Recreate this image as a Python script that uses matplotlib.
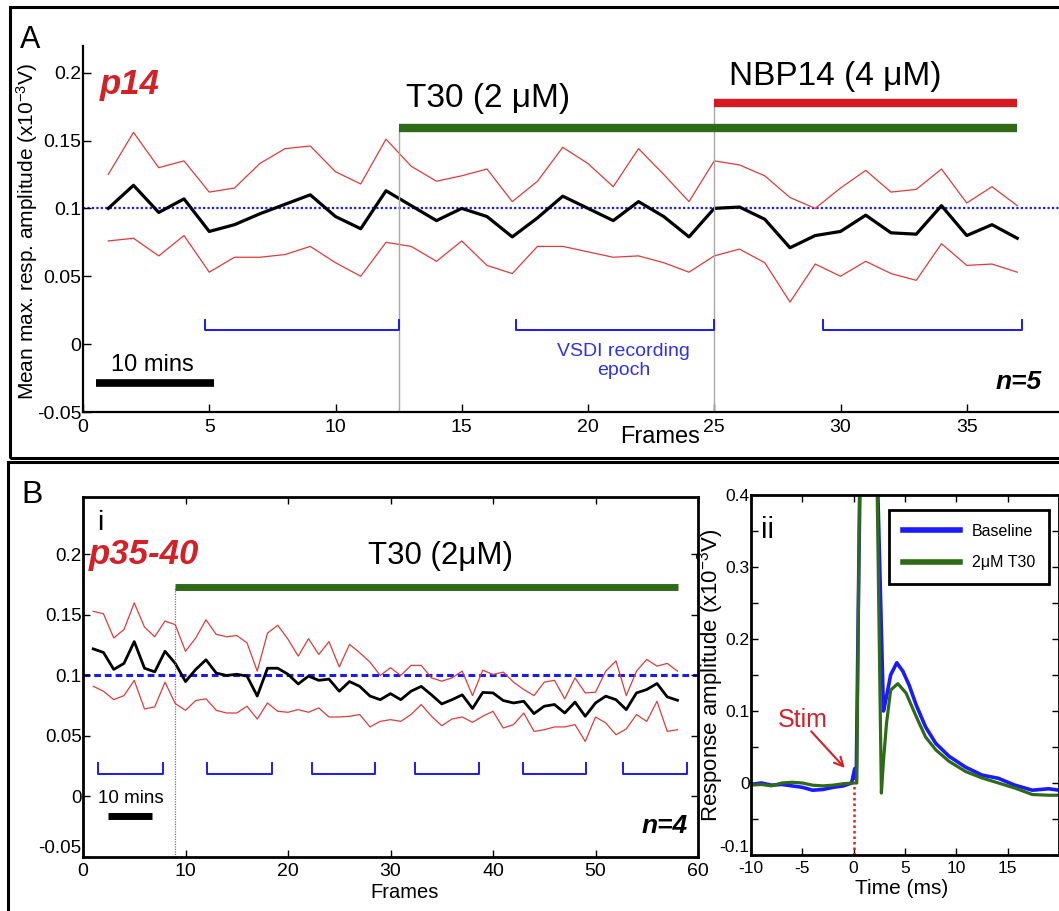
import matplotlib
matplotlib.use('Agg')
import matplotlib.pyplot as plt
from matplotlib.patches import Rectangle

plt.rcParams['font.family'] = ['Liberation Sans', 'DejaVu Sans']
plt.rcParams['mathtext.fontset'] = 'custom'
plt.rcParams['mathtext.rm'] = 'Liberation Sans'
plt.rcParams['mathtext.it'] = 'Liberation Sans:italic'
plt.rcParams['mathtext.default'] = 'rm'
plt.rcParams['axes.unicode_minus'] = False

NARROW = ['Liberation Sans Narrow', 'Liberation Sans', 'DejaVu Sans']

# ---------------- data: panel A (p14) ----------------
a_frames = list(range(1, 38))
a_mean = [0.100, 0.117, 0.097, 0.107, 0.083, 0.088, 0.096, 0.103, 0.110, 0.094,
          0.085, 0.113, 0.102, 0.091, 0.100, 0.094, 0.079, 0.093, 0.109, 0.100,
          0.091, 0.105, 0.094, 0.079, 0.100, 0.101, 0.092, 0.071, 0.080, 0.083,
          0.095, 0.082, 0.081, 0.102, 0.080, 0.088, 0.078]
a_upper = [0.125, 0.156, 0.130, 0.135, 0.112, 0.115, 0.133, 0.144, 0.146, 0.127,
           0.118, 0.151, 0.131, 0.120, 0.124, 0.129, 0.105, 0.120, 0.145, 0.133,
           0.116, 0.144, 0.125, 0.105, 0.135, 0.132, 0.124, 0.108, 0.100, 0.115,
           0.128, 0.112, 0.114, 0.129, 0.104, 0.116, 0.102]
a_lower = [0.076, 0.078, 0.065, 0.080, 0.053, 0.064, 0.064, 0.066, 0.072, 0.060,
           0.050, 0.075, 0.072, 0.061, 0.076, 0.058, 0.052, 0.072, 0.072, 0.068,
           0.064, 0.065, 0.060, 0.053, 0.065, 0.070, 0.060, 0.031, 0.059, 0.050,
           0.061, 0.052, 0.047, 0.074, 0.058, 0.059, 0.053]
a_t30_start, a_nbp_start, a_drug_end = 12.5, 25.0, 37.0
a_epoch_start = [4.85, 17.15, 29.3]
a_epoch_end = [12.5, 25.0, 37.2]

# ---------------- data: panel B(i) (p35-40) ----------------
b_frames = list(range(1, 59))
b_mean = [0.122, 0.119, 0.105, 0.110, 0.128, 0.106, 0.103, 0.120, 0.110, 0.095,
          0.105, 0.113, 0.102, 0.100, 0.101, 0.0995, 0.083, 0.106, 0.106, 0.101,
          0.093, 0.0995, 0.096, 0.097, 0.087, 0.095, 0.091, 0.083, 0.080, 0.085,
          0.080, 0.087, 0.091, 0.084, 0.0765, 0.080, 0.084, 0.0727, 0.086, 0.0856,
          0.0793, 0.0773, 0.0787, 0.0685, 0.0746, 0.076, 0.069, 0.078, 0.0663, 0.0773,
          0.0829, 0.080, 0.0718, 0.0856, 0.0884, 0.0934, 0.0823, 0.0795]
b_upper = [0.153, 0.151, 0.131, 0.138, 0.160, 0.140, 0.132, 0.145, 0.142, 0.120,
           0.131, 0.146, 0.134, 0.132, 0.133, 0.127, 0.1036, 0.135, 0.1415, 0.130,
           0.116, 0.1304, 0.1174, 0.128, 0.107, 0.1257, 0.1188, 0.111, 0.100, 0.1064,
           0.100, 0.1083, 0.1083, 0.098, 0.0953, 0.098, 0.1036, 0.0834, 0.1044, 0.1008,
           0.1028, 0.0945, 0.0884, 0.0834, 0.0945, 0.096, 0.0807, 0.098, 0.0856, 0.0862,
           0.1036, 0.112, 0.0834, 0.1036, 0.1133, 0.1077, 0.110, 0.1036]
b_lower = [0.0911, 0.087, 0.080, 0.0834, 0.096, 0.0724, 0.074, 0.0945, 0.0768, 0.0712,
           0.0793, 0.0807, 0.0712, 0.069, 0.069, 0.0746, 0.064, 0.0773, 0.0704, 0.0696,
           0.0718, 0.0696, 0.0732, 0.0657, 0.0657, 0.0663, 0.0677, 0.0575, 0.0621, 0.0635,
           0.0621, 0.0677, 0.076, 0.0663, 0.0585, 0.064, 0.0657, 0.0613, 0.0663, 0.0704,
           0.0566, 0.0594, 0.069, 0.0538, 0.0552, 0.0575, 0.0575, 0.0594, 0.0455, 0.0657,
           0.0608, 0.051, 0.0558, 0.0677, 0.0621, 0.0787, 0.0538, 0.0552]
b_t30_start, b_drug_end = 9.0, 58.0
b_epoch_start = [1.5, 12.1, 22.3, 32.4, 42.9, 52.7]
b_epoch_end = [7.8, 18.4, 28.5, 38.6, 49.1, 58.9]

# ---------------- data: panel B(ii) traces ----------------
base_t = [-10, -9, -8, -7, -6, -5, -4, -3, -2, -1, -0.2, 0.1, 0.25, 0.5, 0.8,
          2.0, 2.9, 3.2, 3.6, 4.2, 4.8, 5.4, 6.1, 7.0, 8.0, 9.3, 10.9, 12.5, 14.1,
          15.7, 17.4, 19.0, 20.0]
base_v = [-0.002, 0.000, -0.003, -0.002, -0.004, -0.006, -0.010, -0.009, -0.006, -0.004,
          0.000, 0.020, 0.005, 0.300, 0.600, 0.600, 0.100, 0.120, 0.150, 0.167, 0.155,
          0.136, 0.108, 0.078, 0.055, 0.037, 0.022, 0.011, 0.0065, -0.003, -0.010,
          -0.008, -0.010]
t30_t = [-10, -9, -8, -7, -6, -5, -4, -3, -2, -1, 0, 0.3, 0.7, 2.1, 2.7, 2.9, 3.2,
         3.6, 4.3, 5.1, 6.1, 7.0, 8.0, 9.3, 10.9, 12.5, 14.1, 15.7, 17.4, 19.0, 20.0]
t30_v = [-0.003, -0.002, -0.004, 0.000, 0.001, 0.000, -0.003, -0.004, -0.003, -0.001,
         0.000, 0.000, 0.600, 0.600, -0.014, 0.030, 0.083, 0.129, 0.138, 0.125, 0.092,
         0.064, 0.046, 0.030, 0.016, 0.007, 0.000, -0.007, -0.016, -0.017, -0.017]

RED = '#e23a3a'
BARRED = '#d8191f'
GREEN = '#2f6b16'
BLUE = '#1a1aff'
TXTRED = '#d42027'

W, H = 1059, 911
fig = plt.figure(figsize=(W / 100, H / 100), dpi=100)


def fx(px):
    return px / W


def fy(py):
    return 1 - py / H


# ================= Panel A =================
axA = fig.add_axes([fx(83), fy(412), fx(1059 - 83), (412 - 45.5) / H])
axA.set_xlim(0, 976 / 25.25)
axA.set_ylim(-0.05, 0.22)
axA.spines['top'].set_visible(False)
axA.spines['right'].set_visible(False)
for s in ('left', 'bottom'):
    axA.spines[s].set_linewidth(1.6)
axA.set_xticks(range(0, 40, 5))
axA.set_yticks([-0.05, 0, 0.05, 0.1, 0.15, 0.2])
axA.set_yticklabels(['-0.05', '0', '0.05', '0.1', '0.15', '0.2'])
axA.tick_params(direction='in', length=6, width=1, labelsize=14)
axA.tick_params(axis='y', pad=1)
axA.tick_params(axis='x', pad=5)

axA.axhline(0.1, color=BLUE, lw=1.6, ls=(0, (1, 1)), zorder=1)
axA.plot(a_frames, a_upper, color=RED, lw=0.9)
axA.plot(a_frames, a_lower, color=RED, lw=0.9)
axA.plot(a_frames, a_mean, color='black', lw=2.3)

axA.plot([a_t30_start] * 2, [-0.05, 0.159], color='#a8a8a8', lw=1)
axA.plot([a_nbp_start] * 2, [-0.05, 0.178], color='#a8a8a8', lw=1)
axA.plot([a_t30_start, a_drug_end], [0.159, 0.159], color=GREEN, lw=6, solid_capstyle='butt')
axA.plot([a_nbp_start, a_drug_end], [0.178, 0.178], color=BARRED, lw=6, solid_capstyle='butt')

for s0, s1 in zip(a_epoch_start, a_epoch_end):
    axA.plot([s0, s0, s1, s1], [0.0175, 0.0105, 0.0105, 0.0175], color=BLUE, lw=1.4)

axA.text(0.67, 0.191, 'p14', color=TXTRED, fontsize=25, fontweight='bold',
         fontstyle='italic', va='center', ha='left')
axA.text(12.8, 0.181, 'T30 (2 μM)', fontsize=24, va='center', ha='left')
axA.text(25.6, 0.197, 'NBP14 (4 μM)', fontsize=24, va='center', ha='left')
axA.text(21.4, -0.0125, 'VSDI recording\nepoch', color='#3030ee', fontsize=14,
         ha='center', va='center', linespacing=1.15)
axA.text(2.75, -0.0155, '10 mins', fontsize=17, ha='center', va='center')
axA.plot([0.5, 5.2], [-0.0284, -0.0284], color='black', lw=5.5, solid_capstyle='butt')
axA.text(37.98, -0.0276, 'n=5', fontsize=19, fontweight='bold', fontstyle='italic',
         ha='right', va='center')

fig.text(fx(20), fy(25), 'A', fontsize=22, ha='left', va='top')
fig.text(fx(660), fy(437), 'Frames', fontsize=17, ha='center', va='center')
fig.text(fx(27), fy(231), r'Mean max. resp. amplitude (x10$^{-3}$V)', fontsize=15,
         rotation=90, ha='center', va='center')

# ================= Panel B(i) =================
axB = fig.add_axes([fx(83), fy(857), fx(615), 360 / H])
axB.set_xlim(0, 60)
axB.set_ylim(-0.05, 0.2475)
for s in axB.spines.values():
    s.set_linewidth(2)
axB.set_xticks(range(0, 70, 10))
axB.set_yticks([-0.05, 0, 0.05, 0.1, 0.15, 0.2])
axB.set_yticklabels(['-0.05', '0', '0.05', '0.1', '0.15', '0.2'])
axB.tick_params(direction='in', length=5, width=1, top=True, right=True, labelsize=14)
axB.tick_params(axis='y', labelsize=13.5, pad=1)
axB.tick_params(axis='x', pad=4)
for lab in axB.get_xticklabels() + axB.get_yticklabels():
    lab.set_family(NARROW)
axB.get_yticklabels()[0].set_verticalalignment('bottom')

axB.axhline(0.1, color=BLUE, lw=2.2, ls=(0, (2.2, 1.3)), zorder=1)
axB.plot(b_frames, b_upper, color=RED, lw=0.9)
axB.plot(b_frames, b_lower, color=RED, lw=0.9)
axB.plot(b_frames, b_mean, color='black', lw=2)
axB.plot([b_t30_start] * 2, [-0.05, 0.173], color='#777777', lw=0.9, ls=(0, (1, 1)))
axB.plot([b_t30_start, b_drug_end], [0.173, 0.173], color=GREEN, lw=5, solid_capstyle='butt')
for s0, s1 in zip(b_epoch_start, b_epoch_end):
    axB.plot([s0, s0, s1, s1], [0.028, 0.019, 0.019, 0.028], color=BLUE, lw=1.4)

axB.text(1.66, 0.226, 'i', fontsize=20, family=NARROW, ha='center', va='center')
axB.text(0.6, 0.2, 'p35-40', color=TXTRED, fontsize=25, fontweight='bold',
         fontstyle='italic', ha='left', va='center')
axB.text(27.8, 0.1986, 'T30 (2μM)', fontsize=22.5, family=NARROW, ha='left', va='center')
axB.text(4.7, -0.002, '10 mins', fontsize=13.5, family=NARROW, ha='center', va='center')
axB.plot([2.4, 6.7], [-0.016, -0.016], color='black', lw=5, solid_capstyle='butt')
axB.text(59.0, -0.0246, 'n=4', fontsize=19, fontweight='bold', fontstyle='italic',
         ha='right', va='center')

fig.text(fx(21), fy(480), 'B', fontsize=23, ha='left', va='top')
fig.text(fx(405), fy(893), 'Frames', fontsize=14.5, family=NARROW, ha='center', va='center')

# ================= Panel B(ii) =================
axC = fig.add_axes([fx(751), fy(855), fx(308), 360 / H])
axC.set_xlim(-10, 20)
axC.set_ylim(-0.1, 0.4)
for s in axC.spines.values():
    s.set_linewidth(2)
axC.set_xticks([-10, -5, 0, 5, 10, 15])
axC.set_yticks([-0.1, 0, 0.1, 0.2, 0.3, 0.4])
axC.set_yticklabels(['-0.1', '0', '0.1', '0.2', '0.3', '0.4'])
axC.set_yticks([-0.05, 0.05, 0.15, 0.25, 0.35], minor=True)
axC.tick_params(which='both', direction='in', length=5, width=1, top=True, right=True,
                labelsize=12.5)
axC.tick_params(axis='y', pad=1)
axC.tick_params(axis='x', pad=4)
for lab in axC.get_xticklabels() + axC.get_yticklabels():
    lab.set_family(NARROW)
axC.get_yticklabels()[0].set_verticalalignment('bottom')

axC.plot(base_t, base_v, color=BLUE, lw=2.6, label='Baseline')
axC.plot(t30_t, t30_v, color=GREEN, lw=2.3, label='2μM T30')
axC.plot([0, 0], [-0.1, 0.0], color='#e02020', lw=1.8, ls=(0, (1, 1.2)))
axC.annotate('', xy=(-0.68, 0.018), xytext=(-4.32, 0.0746),
             arrowprops=dict(arrowstyle='->', color='#d42027', lw=1.5,
                             mutation_scale=16))
axC.text(-4.94, 0.0875, 'Stim', color=TXTRED, fontsize=18, family=NARROW,
         ha='center', va='center')
axC.text(-8.35, 0.351, 'ii', fontsize=21, family=NARROW, ha='center', va='center')

leg = axC.legend(loc='upper left', bbox_to_anchor=(0.448, 0.958), borderaxespad=0,
                 prop={'family': NARROW, 'size': 11.5}, handlelength=3.6,
                 handletextpad=0.75, labelspacing=1.05, borderpad=0.85,
                 fancybox=False, framealpha=1, edgecolor='black')
leg.get_frame().set_linewidth(2)
for line in leg.get_lines():
    line.set_linewidth(4)

fig.text(fx(902), fy(888), 'Time (ms)', fontsize=15, family=NARROW, ha='center', va='center')
fig.text(fx(711), fy(675), r'Response amplitude (x10$^{-3}$V)', fontsize=16,
         family=NARROW, rotation=90, ha='center', va='center')

# ================= panel frames =================
fig.patches.append(Rectangle((fx(10), fy(458)), fx(1100), (458 - 7) / H, fill=False,
                             lw=2.2, edgecolor='black', transform=fig.transFigure))
fig.patches.append(Rectangle((fx(8), fy(950)), fx(1100), (950 - 462) / H, fill=False,
                             lw=2.2, edgecolor='black', transform=fig.transFigure))

fig.savefig('out.png', dpi=100)
